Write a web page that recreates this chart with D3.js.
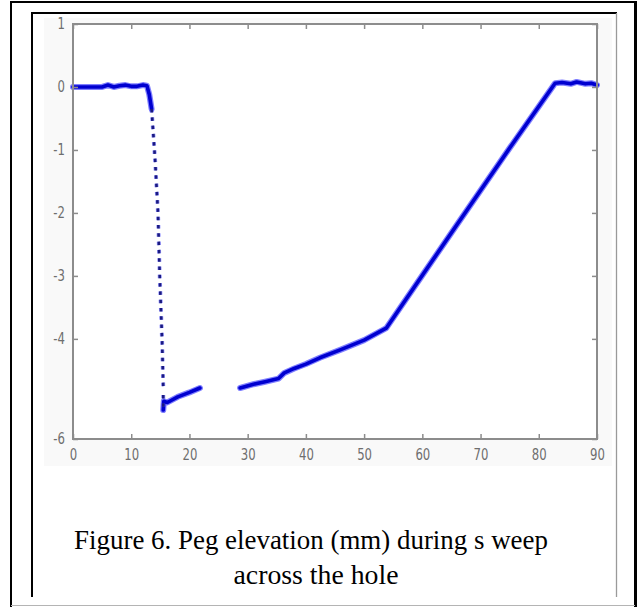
<!DOCTYPE html>
<html>
<head>
<meta charset="utf-8">
<script src="https://cdn.jsdelivr.net/npm/d3@7"></script>
<style>
  html, body { margin: 0; padding: 0; background: #fff; }
  svg { display: block; }
  .tick text { font-family: "DejaVu Sans", sans-serif; fill: #6e6e6e; }
</style>
</head>
<body>
<div id="chart"></div>
<script>
/* Peg elevation (mm) during sweep across the hole */
(function () {
  const W = 637, H = 607;

  // Tick labels
  const xTicks = [0, 10, 20, 30, 40, 50, 60, 70, 80, 90];
  const yTicks = [1, 0, -1, -2, -3, -4, -6];   // -5 lost in the cut strip

  // Strip of the original figure that is missing (values hidden there)
  const cutHi = -4.78, cutLo = -5.19;

  // Flat part before the hole (solid)
  const flatX = [0, 3, 5, 6, 7, 8, 9, 10, 11, 12, 12.7, 13.1, 13.5];
  const flatY = [0, 0, 0, 0.03, 0, 0.02, 0.03, 0.01, 0.01, 0.03, 0.02, -0.12, -0.35];

  // Fast drop into the hole (sparse markers)
  const dropX = [13.5, 14.1, 14.6, 14.9, 15.3, 15.5, 15.5, 15.5, 15.5];
  const dropY = [-0.35, -1.16, -2.0, -3.02, -4.02, -4.76, -5.0, -5.3, -5.54];

  // Climb back out (dense markers, drawn solid)
  const riseX = [15.5, 15.6, 16.2, 18, 20, 21.8, 25, 28.7, 31, 33, 35.3, 36.3, 38, 40, 42.4,
                 46, 50, 53.8, 60.3, 66, 68.6, 75, 82.8, 84, 85.5, 86.5, 88, 89, 90];
  const riseY = [-5.54, -5.4, -5.42, -5.33, -5.26, -5.19, -5.0, -4.78, -4.72, -4.68, -4.63, -4.54, -4.47, -4.4, -4.3,
                 -4.17, -4.02, -3.83, -2.95, -2.18, -1.83, -0.97, 0.06, 0.07, 0.05, 0.08, 0.05, 0.06, 0.03];

  const svg = d3.select("#chart").append("svg")
    .attr("width", W).attr("height", H);

  // Page frames
  svg.append("line").attr("x1", 11).attr("y1", 2).attr("x2", 11).attr("y2", 607)
    .attr("stroke", "#000").attr("stroke-width", 2);
  svg.append("line").attr("x1", 10).attr("y1", 2).attr("x2", 637).attr("y2", 2)
    .attr("stroke", "#000").attr("stroke-width", 2);
  svg.append("line").attr("x1", 635.5).attr("y1", 1).attr("x2", 635.5).attr("y2", 607)
    .attr("stroke", "#000").attr("stroke-width", 3);
  svg.append("line").attr("x1", 11).attr("y1", 605.5).attr("x2", 635).attr("y2", 605.5)
    .attr("stroke", "#b4b4b4").attr("stroke-width", 1);

  svg.append("line").attr("x1", 32).attr("y1", 12).attr("x2", 32).attr("y2", 597)
    .attr("stroke", "#000").attr("stroke-width", 2);
  svg.append("line").attr("x1", 31).attr("y1", 13).attr("x2", 617).attr("y2", 13)
    .attr("stroke", "#000").attr("stroke-width", 2);
  svg.append("line").attr("x1", 616.5).attr("y1", 13).attr("x2", 616.5).attr("y2", 597)
    .attr("stroke", "#9a9a9a").attr("stroke-width", 1.3);

  // faint figure background
  svg.append("rect").attr("x", 44).attr("y", 18).attr("width", 568).attr("height", 448)
    .attr("fill", "#f9f9f9");

  // Scales (y collapses the missing strip to a single row)
  const x = d3.scaleLinear().domain([0, 90]).range([73, 597]);
  const y = d3.scaleLinear().domain([1, cutHi, cutLo, -6]).range([24, 388, 388, 439]);

  svg.append("rect")
    .attr("x", x(0)).attr("y", y(1))
    .attr("width", x(90) - x(0)).attr("height", y(-6) - y(1))
    .attr("fill", "#fff");

  const visible = v => v >= cutHi - 1e-9 || v <= cutLo + 1e-9;
  const line = d3.line()
    .defined(d => visible(d[1]))
    .x(d => x(d[0]))
    .y(d => y(d[1]));

  const flat = flatX.map((v, i) => [v, flatY[i]]);
  const drop = dropX.map((v, i) => [v, dropY[i]]);
  const rise = riseX.map((v, i) => [v, riseY[i]]);

  const plot = svg.append("g");

  // dense marker trace: soft halo + darker core
  [flat, rise].forEach(data => {
    plot.append("path").datum(data).attr("d", line)
      .attr("fill", "none").attr("stroke", "#2a2aff").attr("stroke-opacity", 0.6)
      .attr("stroke-width", 6).attr("stroke-linejoin", "round").attr("stroke-linecap", "round");
    plot.append("path").datum(data).attr("d", line)
      .attr("fill", "none").attr("stroke", "#0000d0")
      .attr("stroke-width", 3.6).attr("stroke-linejoin", "round").attr("stroke-linecap", "round");
  });

  // sparse markers along the drop
  plot.append("path").datum(drop).attr("d", line)
    .attr("fill", "none").attr("stroke", "#5050ff").attr("stroke-opacity", 0.6)
    .attr("stroke-width", 4).attr("stroke-dasharray", "3.5 4.8");
  plot.append("path").datum(drop).attr("d", line)
    .attr("fill", "none").attr("stroke", "#1a1a80")
    .attr("stroke-width", 2.6).attr("stroke-dasharray", "3.5 4.8");

  // Axes (inward ticks, box); narrow matlab-like labels
  const sx = 0.78;
  const axisStyle = g => {
    g.select(".domain").remove();
    g.selectAll(".tick line").attr("stroke", "#8c8c8c").attr("stroke-width", 1.5);
    g.selectAll(".tick text").style("font-size", "15px");
  };
  const plain = d => String(d);

  svg.append("g").attr("transform", `translate(0,${y(-6)})`)
    .call(d3.axisBottom(x).tickValues(xTicks).tickSize(-5).tickPadding(8).tickFormat(plain))
    .call(axisStyle)
    .call(g => g.selectAll(".tick text").attr("dy", "0.9em").attr("transform", `scale(${sx},1)`));
  svg.append("g").attr("transform", `translate(0,${y(1)})`)
    .call(d3.axisTop(x).tickValues(xTicks).tickSize(-5).tickFormat(""))
    .call(axisStyle);
  svg.append("g").attr("transform", `translate(${x(0)},0)`)
    .call(d3.axisLeft(y).tickValues(yTicks).tickSize(-5).tickPadding(7).tickFormat(plain))
    .call(axisStyle)
    .call(g => g.selectAll(".tick text").attr("x", -8 / sx).attr("transform", `scale(${sx},1)`));
  svg.append("g").attr("transform", `translate(${x(90)},0)`)
    .call(d3.axisRight(y).tickValues(yTicks).tickSize(-5).tickFormat(""))
    .call(axisStyle);

  svg.append("rect")
    .attr("x", x(0)).attr("y", y(1))
    .attr("width", x(90) - x(0)).attr("height", y(-6) - y(1))
    .attr("fill", "none").attr("stroke", "#8c8c8c").attr("stroke-width", 2);

  // Caption, fitted to the width it has in the scanned page
  const cap = svg.append("g")
    .style("font-family", "'Liberation Serif', 'Times New Roman', serif")
    .style("font-size", "27px").attr("fill", "#000");
  const captions = [
    { text: "Figure 6. Peg elevation (mm) during s weep", cx: 311, base: 549, width: 474 },
    { text: "across the hole", cx: 316, base: 584, width: 165 }
  ];
  captions.forEach(c => {
    const t = cap.append("text").attr("text-anchor", "middle").text(c.text);
    const k = c.width / t.node().getComputedTextLength();
    t.attr("transform", `translate(${c.cx},${c.base}) scale(${k},1)`);
  });
})();
</script>
</body>
</html>
